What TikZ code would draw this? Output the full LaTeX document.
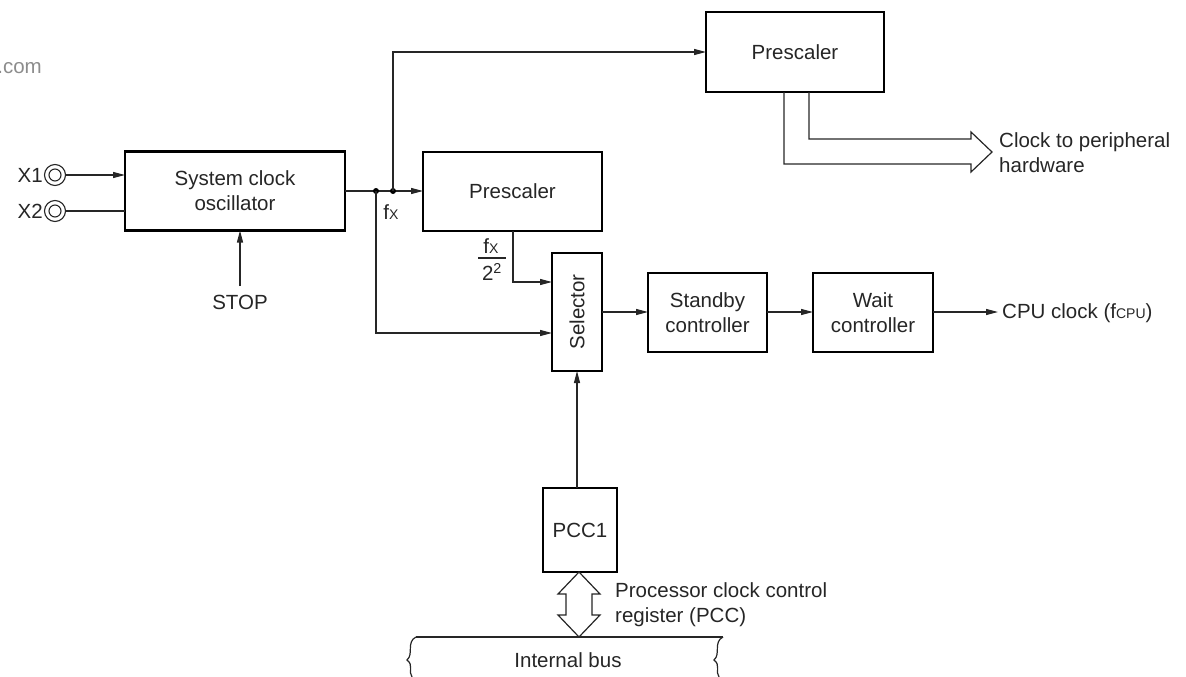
\documentclass[tikz,border=0pt]{standalone}
\usepackage{fontspec}
\setmainfont{Liberation Sans}
\usetikzlibrary{arrows.meta}
\newcommand\lowsub[1]{{\fontsize{14}{14}\selectfont #1}}
\begin{document}
\begin{tikzpicture}[x=1pt,y=-1pt,
 every node/.style={font=\fontsize{20.5}{25}\selectfont, text=black!85},
 box/.style={draw=black, line width=2.6pt, fill=white, inner sep=0pt, outer sep=0pt, align=center},
 conn/.style={line width=1.2pt, draw=black!85},
 arr/.style={conn, -{Triangle[length=12pt,width=6pt]}},
 dot/.style={circle, fill=black, inner sep=0pt, minimum size=6pt},
 term/.style={circle, draw=black!85, line width=1.1pt, minimum size=21pt, inner sep=0pt, outer sep=0pt},
 lbl/.style={inner sep=0pt, align=left}
]
\useasboundingbox (0,0) rectangle (1186,677);

% watermark fragment
\node[anchor=east, inner sep=0pt, text=black!45] (web) at (42,68) {.com};

% blocks
\node[box, minimum width=220pt, minimum height=79pt] (osc) at (235,191) {System clock\\oscillator};
\node[box, minimum width=178pt, minimum height=80pt] (pre1) at (795,52) {Prescaler};
\node[box, minimum width=179pt, minimum height=79pt] (pre2) at (512.5,191.5) {Prescaler};
\node[box, minimum width=50pt, minimum height=118pt] (sel) at (577,312) {};
\node[rotate=90, inner sep=0pt] (seltext) at (sel.center) {Selector};
\node[box, minimum width=119pt, minimum height=79pt] (stby) at (707.5,312.5) {Standby\\controller};
\node[box, minimum width=120pt, minimum height=79pt] (wait) at (873,312.5) {Wait\\controller};
\node[box, minimum width=74pt, minimum height=84pt] (pcc) at (580,530) {PCC1};

% terminals
\node[term] (x1) at (55,175) {};
\draw[line width=1.1pt, draw=black!85] (x1.center) circle (6pt);
\node[term] (x2) at (55,211) {};
\draw[line width=1.1pt, draw=black!85] (x2.center) circle (6pt);
\node[anchor=east, inner sep=0pt] (x1l) at (43,175) {X1};
\node[anchor=east, inner sep=0pt] (x2l) at (43,211) {X2};
\draw[arr] (x1.east) -- (osc.west |- x1.east);
\draw[conn] (x2.east) -- (osc.west |- x2.east);

% STOP
\node[inner sep=0pt] (stop) at (240,302) {STOP};
\draw[arr] ([yshift=16pt]stop.center) -- (osc.south -| stop.center);

% fx distribution
\coordinate (j1) at (376,191);
\coordinate (j2) at (393,191);
\draw[arr] (osc.east) -- (pre2.west |- osc.east);
\node[dot] (d1) at (j1) {};
\node[dot] (d2) at (j2) {};
\draw[arr] (j2) |- (pre1.west);
\coordinate (selin2) at (552,333);
\draw[arr] (j1) |- (selin2);
\node[inner sep=0pt] (fxl) at (391,212) {f\lowsub{X}};

% prescaler 2 to selector
\coordinate (p2out) at (513,231);
\coordinate (selin1) at (552,282);
\draw[arr] (p2out) |- (selin1);
\node[inner sep=0pt] (fnum) at (491,246) {f\lowsub{X}};
\node[inner sep=0pt] (fden) at (492,272) {2\textsuperscript{2}};
\coordinate (fracl) at (478,258);
\coordinate (fracr) at (506,258);
\draw[conn] (fracl) -- (fracr);

% chain
\draw[arr] (sel.east) -- (stby.west |- sel.east);
\draw[arr] (stby.east |- sel.east) -- (wait.west |- sel.east);
\node[anchor=west, inner sep=0pt] (cpu) at (1002,313) {CPU clock (f\lowsub{CPU})};
\coordinate (cpuin) at (998,312);
\draw[arr] (wait.east |- cpuin) -- (cpuin);

% PCC1 to selector
\draw[arr] (sel.south |- pcc.north) -- (sel.south);

% wide arrow to peripheral hardware
\coordinate (wa) at (784,92);
\coordinate (wb) at (809,92);
\draw[conn, line join=miter] (wa) -- (784,164) -- (971,164) -- (971,172) -- (992,152) -- (971,132) -- (971,139) -- (809,139) -- (wb);
\node[anchor=west, lbl] (periph) at (999,152.5) {Clock to peripheral\\hardware};

% double arrow PCC1 <-> internal bus
\draw[conn, fill=white, line join=miter] (579,572) -- (600,594) -- (592,594) -- (592,615) -- (600,615) -- (579,637) -- (558,615) -- (566,615) -- (566,594) -- (558,594) -- cycle;
\node[anchor=west, lbl] (pcctxt) at (615,605) {Processor clock control\\register (PCC)};

% internal bus
\draw[conn] (416,637) -- (723,637);
\draw[conn] (416,637) .. controls (406,642) and (414,654) .. (407,660) .. controls (414,665) and (408,672) .. (412,677);
\draw[conn] (723,637) .. controls (713,642) and (721,654) .. (714,660) .. controls (721,665) and (715,672) .. (719,677);
\node[inner sep=0pt] (bus) at (568,660) {Internal bus};
\end{tikzpicture}
\end{document}
